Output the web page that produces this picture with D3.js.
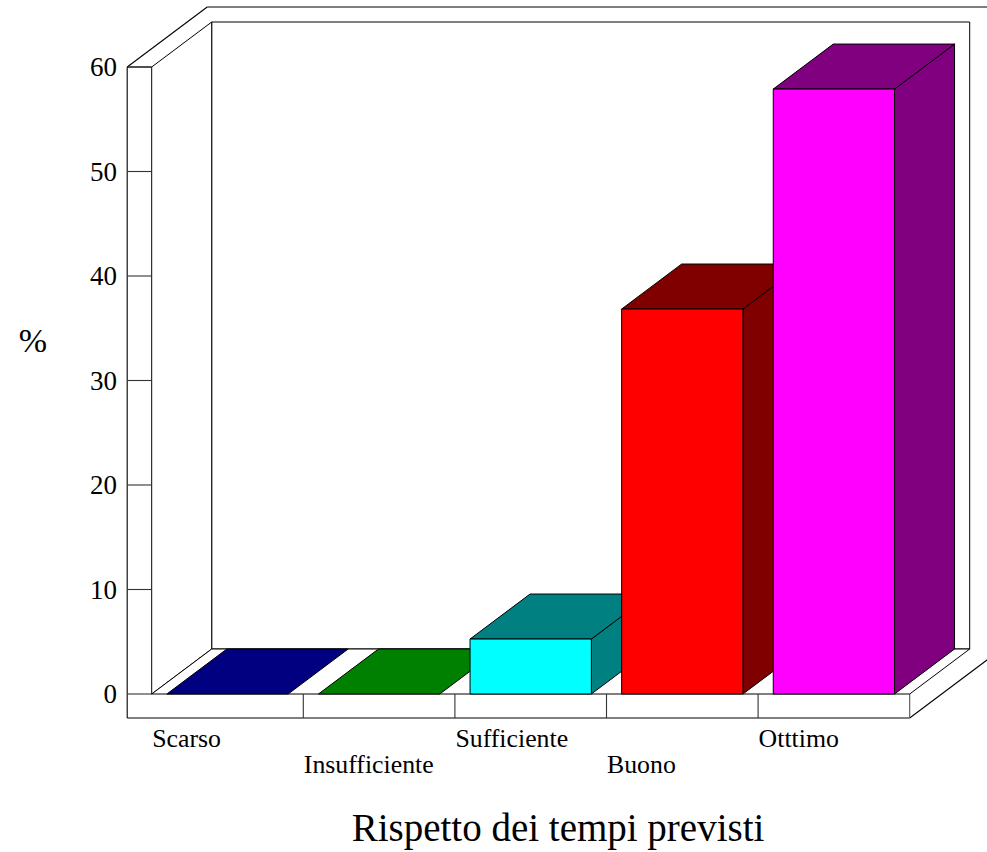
<!DOCTYPE html>
<html><head><meta charset="utf-8">
<script src="https://cdn.jsdelivr.net/npm/d3@7"></script>
<style>html,body{margin:0;padding:0;background:#fff}svg{display:block}text{font-family:"Liberation Serif",serif;fill:#000}</style>
</head><body><div id="c"></div>
<script>
const categories=["Scarso","Insufficiente","Sufficiente","Buono","Otttimo"];
const values=[0,0,5.26,36.84,57.89];
const frontColors=["#000080","#008000","#00ffff","#ff0000","#ff00ff"];
const darkColors=["#000080","#008000","#008080","#800000","#800080"];
const yTicks=[0,10,20,30,40,50,60];

const W=987,H=852,dx=60,dy=-45;
const svg=d3.select("#c").append("svg").attr("width",W).attr("height",H);
const x=d3.scaleBand().domain(categories).range([151.7,909.7]).paddingInner(0.2).paddingOuter(0.1);
const xe=d3.scaleBand().domain(categories).range([151.7,909.7]);
const y=d3.scaleLinear().domain([0,60]).range([694,67]);
const y0=y(0),y60=y(60),left=151.7,right=909.7,drop=24,ox=24.5;
const line=d3.line();
const poly=(pts,fill)=>svg.append("path").attr("d",line(pts)+"Z").attr("fill",fill).attr("stroke","#000").attr("stroke-width",1).attr("stroke-linejoin","round");
const seg=(a,b,s="#000")=>svg.append("line").attr("x1",a[0]).attr("y1",a[1]).attr("x2",b[0]).attr("y2",b[1]).attr("stroke",s).attr("stroke-width",1.1);

// outer frame
seg([left-ox,y0+drop],[right,y0+drop]);
seg([left-ox,y60],[left-ox,y0+drop]);
seg([left-ox,y60],[left-ox+80,y60-60]);
seg([left-ox+80,y60-60],[W,y60-60]);
seg([right,y0+drop],[right+80,y0+drop-60]);
seg([right,y0],[right,y0+drop],"#555");
seg([left-ox,y60],[left,y60]);

// walls and floor
poly([[left+dx,y60+dy],[right+dx,y60+dy],[right+dx,y0+dy],[left+dx,y0+dy]],"#fff");
poly([[left,y60],[left+dx,y60+dy],[left+dx,y0+dy],[left,y0]],"#fff");
poly([[left,y0],[left+dx,y0+dy],[right+dx,y0+dy],[right,y0]],"#fff");

// y ticks and labels
yTicks.forEach(t=>{
  seg([left-ox,y(t)],[left,y(t)],"#333");
  svg.append("text").attr("x",117).attr("y",y(t)+9).attr("text-anchor","end").attr("font-size",27).text(t);
});

// category separators and labels
categories.forEach((c,i)=>{
  if(i>0) seg([xe(c),y0],[xe(c),y0+drop],"#333");
  svg.append("text").attr("x",xe(c)+0.5).attr("y",i%2?773:747).attr("font-size",25.8).text(c);
});

// bars
categories.forEach((c,i)=>{
  const a=x(c),b=a+x.bandwidth(),t=y(values[i]);
  if(values[i]>0){
    poly([[b,t],[b+dx,t+dy],[b+dx,y0+dy],[b,y0]],darkColors[i]);
  }
  poly([[a,t],[a+dx,t+dy],[b+dx,t+dy],[b,t]],darkColors[i]);
  if(values[i]>0){
    poly([[a,t],[b,t],[b,y0],[a,y0]],frontColors[i]);
  }
});

svg.append("text").attr("x",558).attr("y",841).attr("text-anchor","middle").attr("font-size",39).text("Rispetto dei tempi previsti");
svg.append("text").attr("x",33).attr("y",352).attr("text-anchor","middle").attr("font-size",34).text("%");
</script></body></html>
